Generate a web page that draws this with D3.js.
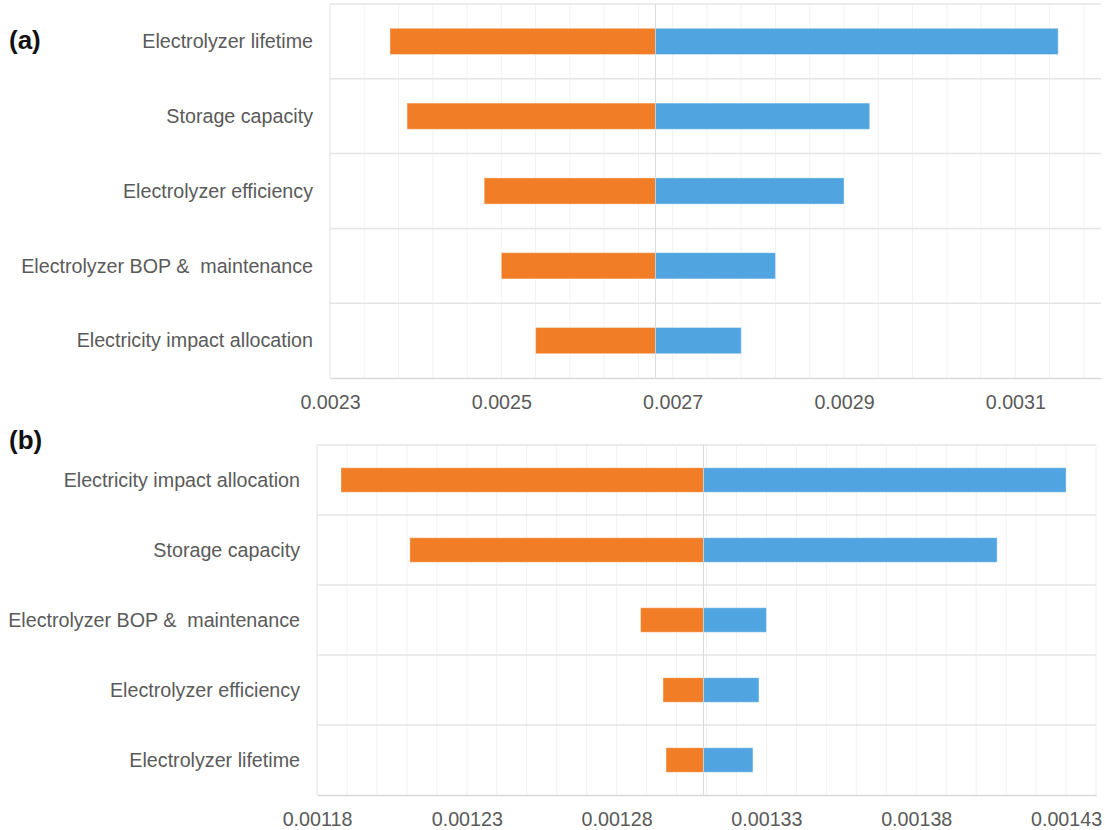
<!DOCTYPE html>
<html>
<head>
<meta charset="utf-8">
<script src="https://cdn.jsdelivr.net/npm/d3@7"></script>
<style>
  html, body { margin: 0; padding: 0; background: #fff; }
  svg { display: block; }
  text { font-family: "Liberation Sans", Arial, sans-serif; white-space: pre; }
</style>
</head>
<body>
<svg id="chart" width="1105" height="830"></svg>
<script>
// Panel (a)
const categoriesA = ["Electrolyzer lifetime", "Storage capacity", "Electrolyzer efficiency", "Electrolyzer BOP &  maintenance", "Electricity impact allocation"];
const lowA  = [0.00237, 0.00239, 0.00248, 0.00250, 0.00254];
const highA = [0.00315, 0.00293, 0.00290, 0.00282, 0.00278];
const baseA = 0.00268;
const ticksA = [0.0023, 0.0025, 0.0027, 0.0029, 0.0031];
const domainA = [0.0023, 0.0032];
const gridStepA = 0.00004;

// Panel (b)
const categoriesB = ["Electricity impact allocation", "Storage capacity", "Electrolyzer BOP &  maintenance", "Electrolyzer efficiency", "Electrolyzer lifetime"];
const lowB  = [0.001188, 0.001211, 0.001288, 0.0012955, 0.0012965];
const highB = [0.001430, 0.001407, 0.001330, 0.0013275, 0.0013255];
const baseB = 0.001309;
const ticksB = [0.00118, 0.00123, 0.00128, 0.00133, 0.00138, 0.00143];
const domainB = [0.00118, 0.00144];
const gridStepB = 0.00001;

const ORANGE = "#F17E26";
const BLUE = "#50A5E0";
const TEXT = "#5a5a5a";

const svg = d3.select("#chart");

function drawPanel(cfg) {
  const g = svg.append("g");
  const x = d3.scaleLinear().domain(cfg.domain).range([cfg.left, cfg.right]);
  const y = d3.scaleBand().domain(cfg.categories).range([cfg.top, cfg.bottom])
    .paddingInner(0.65).paddingOuter(0.325);
  const step = y.step();

  // minor vertical grid
  const n = Math.round((cfg.domain[1] - cfg.domain[0]) / cfg.gridStep);
  const gridVals = d3.range(0, n + 1).map(i => cfg.domain[0] + i * cfg.gridStep)
    .filter(v => v <= cfg.domain[1] + 1e-12);
  g.append("g").selectAll("line").data(gridVals).join("line")
    .attr("x1", d => x(d)).attr("x2", d => x(d))
    .attr("y1", cfg.top).attr("y2", cfg.bottom)
    .attr("stroke", "#f2f2f2").attr("stroke-width", 1);

  // row separators
  const rows = d3.range(0, cfg.categories.length + 1).map(i => cfg.top + i * step);
  g.append("g").selectAll("line").data(rows.slice(0, -1)).join("line")
    .attr("x1", cfg.left).attr("x2", cfg.right)
    .attr("y1", d => d).attr("y2", d => d)
    .attr("stroke", "#e4e4e4").attr("stroke-width", 1.5);

  // left border
  g.append("line")
    .attr("x1", cfg.left).attr("x2", cfg.left)
    .attr("y1", cfg.top).attr("y2", cfg.bottom)
    .attr("stroke", "#e6e6e6").attr("stroke-width", 1);

  // base line
  g.append("line")
    .attr("x1", x(cfg.base)).attr("x2", x(cfg.base))
    .attr("y1", cfg.top).attr("y2", cfg.bottom)
    .attr("stroke", "#d9d9d9").attr("stroke-width", 1);

  // x axis
  const axis = d3.axisBottom(x).tickValues(cfg.ticks).tickSize(0).tickPadding(0)
    .tickFormat(d => d3.format(cfg.fmt)(d));
  const ax = g.append("g").attr("transform", `translate(0,${cfg.bottom})`).call(axis);
  ax.select(".domain").attr("stroke", "#d9d9d9").attr("stroke-width", 1.5);
  ax.selectAll("text")
    .attr("y", 31).attr("dy", null)
    .attr("fill", TEXT).style("font-size", "19.7px")
    .style("font-family", '"Liberation Sans", Arial, sans-serif');

  const data = cfg.categories.map((c, i) => ({ c, low: cfg.low[i], high: cfg.high[i] }));

  // low-side bars
  g.append("g").selectAll("rect").data(data).join("rect")
    .attr("x", d => x(d.low)).attr("width", d => x(cfg.base) - x(d.low))
    .attr("y", d => y(d.c)).attr("height", y.bandwidth())
    .attr("fill", ORANGE).attr("stroke", "rgba(255,255,255,0.35)").attr("stroke-width", 1);

  // high-side bars
  g.append("g").selectAll("rect").data(data).join("rect")
    .attr("x", x(cfg.base)).attr("width", d => x(d.high) - x(cfg.base))
    .attr("y", d => y(d.c)).attr("height", y.bandwidth())
    .attr("fill", BLUE).attr("stroke", "rgba(255,255,255,0.35)").attr("stroke-width", 1);

  // category labels
  g.append("g").selectAll("text").data(cfg.categories).join("text")
    .attr("x", cfg.left - cfg.labelGap)
    .attr("y", d => y(d) + y.bandwidth() / 2)
    .attr("dy", "0.35em")
    .attr("text-anchor", "end")
    .attr("fill", TEXT)
    .attr("xml:space", "preserve")
    .style("font-size", "19.7px")
    .text(d => d);

  // panel tag
  g.append("text")
    .attr("x", 9).attr("y", cfg.tagY)
    .attr("fill", "#111")
    .style("font-size", "26px").style("font-weight", "bold")
    .text(cfg.tag);
}

drawPanel({
  categories: categoriesA, low: lowA, high: highA, base: baseA,
  ticks: ticksA, domain: domainA, gridStep: gridStepA, fmt: ".4f",
  left: 330, right: 1101, top: 4, bottom: 378, labelGap: 17,
  tag: "(a)", tagY: 49
});

drawPanel({
  categories: categoriesB, low: lowB, high: highB, base: baseB,
  ticks: ticksB, domain: domainB, gridStep: gridStepB, fmt: ".5f",
  left: 317, right: 1096, top: 445, bottom: 795, labelGap: 17,
  tag: "(b)", tagY: 449
});
</script>
</body>
</html>
